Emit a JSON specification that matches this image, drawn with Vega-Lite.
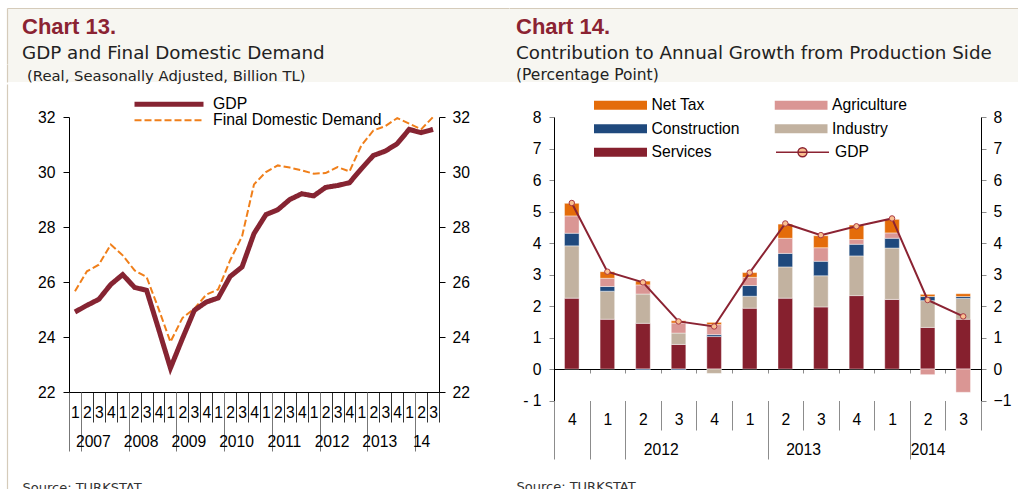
{
  "$schema": "https://vega.github.io/schema/vega-lite/v6.json",
  "background": "white",
  "padding": {"left": 7, "top": 8, "right": 0, "bottom": 0},
  "config": {
    "view": {"stroke": null},
    "font": "Liberation Sans",
    "axis": {"grid": false, "labelFont": "Liberation Sans", "labelFontSize": 15.7, "labelColor": "#000", "domainColor": "#000", "tickColor": "#000", "labelOverlap": false, "labelAngle": 0},
    "legend": {"labelFont": "Liberation Sans", "labelFontSize": 15.7, "labelColor": "#000", "labelLimit": 400}
  },
  "datasets": {
    "demand": [
      {"q": "2007Q1", "series": "GDP", "value": 24.91}, {"q": "2007Q2", "series": "GDP", "value": 25.15}, {"q": "2007Q3", "series": "GDP", "value": 25.37}, {"q": "2007Q4", "series": "GDP", "value": 25.91},
      {"q": "2008Q1", "series": "GDP", "value": 26.27}, {"q": "2008Q2", "series": "GDP", "value": 25.80}, {"q": "2008Q3", "series": "GDP", "value": 25.70}, {"q": "2008Q4", "series": "GDP", "value": 24.30},
      {"q": "2009Q1", "series": "GDP", "value": 22.87}, {"q": "2009Q2", "series": "GDP", "value": 23.94}, {"q": "2009Q3", "series": "GDP", "value": 24.97}, {"q": "2009Q4", "series": "GDP", "value": 25.27},
      {"q": "2010Q1", "series": "GDP", "value": 25.42}, {"q": "2010Q2", "series": "GDP", "value": 26.20}, {"q": "2010Q3", "series": "GDP", "value": 26.55}, {"q": "2010Q4", "series": "GDP", "value": 27.76},
      {"q": "2011Q1", "series": "GDP", "value": 28.45}, {"q": "2011Q2", "series": "GDP", "value": 28.63}, {"q": "2011Q3", "series": "GDP", "value": 29.00}, {"q": "2011Q4", "series": "GDP", "value": 29.21},
      {"q": "2012Q1", "series": "GDP", "value": 29.13}, {"q": "2012Q2", "series": "GDP", "value": 29.44}, {"q": "2012Q3", "series": "GDP", "value": 29.51}, {"q": "2012Q4", "series": "GDP", "value": 29.61},
      {"q": "2013Q1", "series": "GDP", "value": 30.12}, {"q": "2013Q2", "series": "GDP", "value": 30.60}, {"q": "2013Q3", "series": "GDP", "value": 30.76}, {"q": "2013Q4", "series": "GDP", "value": 31.03},
      {"q": "2014Q1", "series": "GDP", "value": 31.55}, {"q": "2014Q2", "series": "GDP", "value": 31.43}, {"q": "2014Q3", "series": "GDP", "value": 31.55},
      {"q": "2007Q1", "series": "Final Domestic Demand", "value": 25.66}, {"q": "2007Q2", "series": "Final Domestic Demand", "value": 26.39}, {"q": "2007Q3", "series": "Final Domestic Demand", "value": 26.63}, {"q": "2007Q4", "series": "Final Domestic Demand", "value": 27.36},
      {"q": "2008Q1", "series": "Final Domestic Demand", "value": 26.97}, {"q": "2008Q2", "series": "Final Domestic Demand", "value": 26.42}, {"q": "2008Q3", "series": "Final Domestic Demand", "value": 26.18}, {"q": "2008Q4", "series": "Final Domestic Demand", "value": 25.03},
      {"q": "2009Q1", "series": "Final Domestic Demand", "value": 23.82}, {"q": "2009Q2", "series": "Final Domestic Demand", "value": 24.69}, {"q": "2009Q3", "series": "Final Domestic Demand", "value": 25.03}, {"q": "2009Q4", "series": "Final Domestic Demand", "value": 25.54},
      {"q": "2010Q1", "series": "Final Domestic Demand", "value": 25.73}, {"q": "2010Q2", "series": "Final Domestic Demand", "value": 26.79}, {"q": "2010Q3", "series": "Final Domestic Demand", "value": 27.66}, {"q": "2010Q4", "series": "Final Domestic Demand", "value": 29.55},
      {"q": "2011Q1", "series": "Final Domestic Demand", "value": 30.00}, {"q": "2011Q2", "series": "Final Domestic Demand", "value": 30.24}, {"q": "2011Q3", "series": "Final Domestic Demand", "value": 30.16}, {"q": "2011Q4", "series": "Final Domestic Demand", "value": 30.06},
      {"q": "2012Q1", "series": "Final Domestic Demand", "value": 29.94}, {"q": "2012Q2", "series": "Final Domestic Demand", "value": 29.96}, {"q": "2012Q3", "series": "Final Domestic Demand", "value": 30.18}, {"q": "2012Q4", "series": "Final Domestic Demand", "value": 30.02},
      {"q": "2013Q1", "series": "Final Domestic Demand", "value": 30.97}, {"q": "2013Q2", "series": "Final Domestic Demand", "value": 31.51}, {"q": "2013Q3", "series": "Final Domestic Demand", "value": 31.67}, {"q": "2013Q4", "series": "Final Domestic Demand", "value": 31.96},
      {"q": "2014Q1", "series": "Final Domestic Demand", "value": 31.76}, {"q": "2014Q2", "series": "Final Domestic Demand", "value": 31.55}, {"q": "2014Q3", "series": "Final Domestic Demand", "value": 32.00}
    ],
    "contrib": [
      {"q": "2011Q4", "component": "Services", "value": 2.25}, {"q": "2011Q4", "component": "Industry", "value": 1.66}, {"q": "2011Q4", "component": "Construction", "value": 0.40}, {"q": "2011Q4", "component": "Agriculture", "value": 0.55}, {"q": "2011Q4", "component": "Net Tax", "value": 0.40},
      {"q": "2012Q1", "component": "Services", "value": 1.58}, {"q": "2012Q1", "component": "Industry", "value": 0.89}, {"q": "2012Q1", "component": "Construction", "value": 0.15}, {"q": "2012Q1", "component": "Agriculture", "value": 0.26}, {"q": "2012Q1", "component": "Net Tax", "value": 0.21},
      {"q": "2012Q2", "component": "Services", "value": 1.45}, {"q": "2012Q2", "component": "Industry", "value": 0.93}, {"q": "2012Q2", "component": "Construction", "value": -0.03}, {"q": "2012Q2", "component": "Agriculture", "value": 0.29}, {"q": "2012Q2", "component": "Net Tax", "value": 0.12},
      {"q": "2012Q3", "component": "Services", "value": 0.78}, {"q": "2012Q3", "component": "Industry", "value": 0.36}, {"q": "2012Q3", "component": "Construction", "value": -0.03}, {"q": "2012Q3", "component": "Agriculture", "value": 0.32}, {"q": "2012Q3", "component": "Net Tax", "value": 0.07},
      {"q": "2012Q4", "component": "Services", "value": 1.03}, {"q": "2012Q4", "component": "Industry", "value": -0.14}, {"q": "2012Q4", "component": "Construction", "value": 0.06}, {"q": "2012Q4", "component": "Agriculture", "value": 0.32}, {"q": "2012Q4", "component": "Net Tax", "value": 0.07},
      {"q": "2013Q1", "component": "Services", "value": 1.93}, {"q": "2013Q1", "component": "Industry", "value": 0.38}, {"q": "2013Q1", "component": "Construction", "value": 0.34}, {"q": "2013Q1", "component": "Agriculture", "value": 0.26}, {"q": "2013Q1", "component": "Net Tax", "value": 0.15},
      {"q": "2013Q2", "component": "Services", "value": 2.25}, {"q": "2013Q2", "component": "Industry", "value": 0.99}, {"q": "2013Q2", "component": "Construction", "value": 0.43}, {"q": "2013Q2", "component": "Agriculture", "value": 0.48}, {"q": "2013Q2", "component": "Net Tax", "value": 0.45},
      {"q": "2013Q3", "component": "Services", "value": 1.97}, {"q": "2013Q3", "component": "Industry", "value": 0.99}, {"q": "2013Q3", "component": "Construction", "value": 0.46}, {"q": "2013Q3", "component": "Agriculture", "value": 0.43}, {"q": "2013Q3", "component": "Net Tax", "value": 0.38},
      {"q": "2013Q4", "component": "Services", "value": 2.33}, {"q": "2013Q4", "component": "Industry", "value": 1.26}, {"q": "2013Q4", "component": "Construction", "value": 0.37}, {"q": "2013Q4", "component": "Agriculture", "value": 0.15}, {"q": "2013Q4", "component": "Net Tax", "value": 0.46},
      {"q": "2014Q1", "component": "Services", "value": 2.21}, {"q": "2014Q1", "component": "Industry", "value": 1.63}, {"q": "2014Q1", "component": "Construction", "value": 0.31}, {"q": "2014Q1", "component": "Agriculture", "value": 0.17}, {"q": "2014Q1", "component": "Net Tax", "value": 0.43},
      {"q": "2014Q2", "component": "Services", "value": 1.32}, {"q": "2014Q2", "component": "Industry", "value": 0.85}, {"q": "2014Q2", "component": "Construction", "value": 0.13}, {"q": "2014Q2", "component": "Agriculture", "value": -0.18}, {"q": "2014Q2", "component": "Net Tax", "value": 0.07},
      {"q": "2014Q3", "component": "Services", "value": 1.58}, {"q": "2014Q3", "component": "Industry", "value": 0.66}, {"q": "2014Q3", "component": "Construction", "value": 0.06}, {"q": "2014Q3", "component": "Agriculture", "value": -0.74}, {"q": "2014Q3", "component": "Net Tax", "value": 0.09}
    ],
    "gdp14": [
      {"q": "2011Q4", "series": "GDP", "value": 5.27}, {"q": "2012Q1", "series": "GDP", "value": 3.09}, {"q": "2012Q2", "series": "GDP", "value": 2.75}, {"q": "2012Q3", "series": "GDP", "value": 1.51},
      {"q": "2012Q4", "series": "GDP", "value": 1.35}, {"q": "2013Q1", "series": "GDP", "value": 3.06}, {"q": "2013Q2", "series": "GDP", "value": 4.62}, {"q": "2013Q3", "series": "GDP", "value": 4.25},
      {"q": "2013Q4", "series": "GDP", "value": 4.53}, {"q": "2014Q1", "series": "GDP", "value": 4.78}, {"q": "2014Q2", "series": "GDP", "value": 2.19}, {"q": "2014Q3", "series": "GDP", "value": 1.67}
    ]
  },
  "spacing": 0,
  "resolve": {"scale": {"color": "independent", "stroke": "independent", "strokeDash": "independent", "strokeWidth": "independent"}},
  "vconcat": [
    {
      "spacing": 0,
      "hconcat": [
        {
          "width": 502, "height": 56,
          "view": {"fill": "#F7F6F1", "stroke": null},
          "title": {"text": "Chart 13.", "subtitle": "GDP and Final Domestic Demand", "anchor": "start", "frame": "group", "orient": "top", "offset": -55.3, "dx": 15,
            "font": "Liberation Sans", "fontSize": 22, "fontWeight": "bold", "color": "#8B2332",
            "subtitleFont": "DejaVu Sans", "subtitleFontSize": 18.3, "subtitleColor": "#222222", "subtitlePadding": 6},
          "data": {"values": [{"t": ""}]},
          "mark": "text",
          "encoding": {
            "text": {"field": "t"},
            "x": {"field": "t", "type": "nominal", "axis": {"orient": "top", "title": null, "domain": true, "domainColor": "#D5CBBA", "domainWidth": 1.2, "ticks": false, "labels": false}},
            "y": {"field": "t", "type": "nominal", "axis": {"orient": "left", "title": null, "domain": true, "domainColor": "#D5CBBA", "domainWidth": 1.2, "ticks": false, "labels": false}}
          }
        },
        {
          "width": 509, "height": 56,
          "view": {"fill": "#F7F6F1", "stroke": null},
          "title": {"text": "Chart 14.", "subtitle": "Contribution to Annual Growth from Production Side", "anchor": "start", "frame": "group", "orient": "top", "offset": -55.3, "dx": 7,
            "font": "Liberation Sans", "fontSize": 22, "fontWeight": "bold", "color": "#8B2332",
            "subtitleFont": "DejaVu Sans", "subtitleFontSize": 18.3, "subtitleColor": "#222222", "subtitlePadding": 6},
          "data": {"values": [{"t": ""}]},
          "mark": "text",
          "encoding": {
            "text": {"field": "t"},
            "x": {"field": "t", "type": "nominal", "axis": {"orient": "top", "title": null, "domain": true, "domainColor": "#D5CBBA", "domainWidth": 1.2, "ticks": false, "labels": false}}
          }
        }
      ]
    },
    {
      "spacing": 0,
      "hconcat": [
        {
          "width": 502, "height": 18,
          "view": {"fill": "#F7F6F1", "stroke": null},
          "title": {"text": "(Real, Seasonally Adjusted, Billion TL)", "anchor": "start", "frame": "group", "orient": "top", "offset": -19.3, "dx": 20,
            "font": "DejaVu Sans", "fontSize": 14.8, "fontWeight": "normal", "color": "#222222"},
          "data": {"values": [{"t": ""}]},
          "mark": "text",
          "encoding": {
            "text": {"field": "t"},
            "y": {"field": "t", "type": "nominal", "axis": {"orient": "left", "title": null, "domain": true, "domainColor": "#D5CBBA", "domainWidth": 1.2, "ticks": false, "labels": false}}
          }
        },
        {
          "width": 509, "height": 18,
          "view": {"fill": "#F7F6F1", "stroke": null},
          "title": {"text": "(Percentage Point)", "anchor": "start", "frame": "group", "orient": "top", "offset": -19.3, "dx": 7,
            "font": "DejaVu Sans", "fontSize": 15.5, "fontWeight": "normal", "color": "#222222"},
          "data": {"values": [{"t": ""}]},
          "mark": "text",
          "encoding": {"text": {"field": "t"}}
        }
      ]
    },
    {
      "spacing": 0,
      "resolve": {"scale": {"color": "independent", "stroke": "independent", "strokeDash": "independent", "strokeWidth": "independent"}},
      "hconcat": [
        {
          "width": 1, "height": 407,
          "view": {"fill": null, "stroke": null},
          "data": {"values": [{"t": ""}]},
          "mark": "text",
          "encoding": {
            "text": {"field": "t"},
            "y": {"field": "t", "type": "nominal", "axis": {"orient": "left", "position": -33, "title": null, "domain": true, "domainColor": "#D5CBBA", "domainWidth": 1.2, "ticks": false, "labels": false}}
          }
        },
        {
          "spacing": 38,
          "resolve": {"scale": {"color": "independent", "stroke": "independent", "strokeDash": "independent", "strokeWidth": "independent"}},
          "hconcat": [
            {
              "width": 370, "height": 275,
              "title": {"text": ".", "color": "transparent", "fontSize": 10, "offset": 1.5, "frame": "group", "anchor": "start"},
              "data": {"name": "demand"},
              "layer": [
                {
                  "transform": [{"filter": "datum.series == 'Final Domestic Demand'"}],
                  "mark": {"type": "line"},
                  "encoding": {
                    "x": {"field": "q", "type": "nominal", "sort": null, "scale": {"type": "band", "paddingInner": 0, "paddingOuter": 0},
                      "axis": {"title": null, "orient": "bottom", "tickBand": "extent", "tickSize": 30, "tickColor": "#333333", "domain": true, "domainColor": "#000000",
                        "labelExpr": "datum.value ? substring(datum.value, 5) : ''", "labelBaseline": "middle", "labelPadding": -10}},
                    "y": {"field": "value", "type": "quantitative", "scale": {"domain": [22, 32], "nice": false, "zero": false},
                      "axis": {"title": ".", "titleOpacity": 0, "titleFontSize": 10, "titlePadding": 19.5, "orient": "left", "values": [22, 24, 26, 28, 30, 32], "tickSize": 6, "labelPadding": 8}},
                    "stroke": {"field": "series", "type": "nominal", "scale": {"domain": ["GDP", "Final Domestic Demand"], "range": ["#862432", "#F07F1A"]},
                      "legend": {"orient": "none", "legendX": 63, "legendY": -20.3, "title": null, "symbolType": "stroke", "symbolSize": 4761, "labelOffset": 7, "clipHeight": 15, "rowPadding": -1.7, "padding": 0, "labelFontSize": 15.8}},
                    "strokeDash": {"field": "series", "type": "nominal", "scale": {"domain": ["GDP", "Final Domestic Demand"], "range": [[1, 0], [7, 3]]},
                      "legend": {"orient": "none", "legendX": 63, "legendY": -20.3, "title": null, "symbolType": "stroke", "symbolSize": 4761, "labelOffset": 7, "clipHeight": 15, "rowPadding": -1.7, "padding": 0, "labelFontSize": 15.8}},
                    "strokeWidth": {"field": "series", "type": "nominal", "scale": {"domain": ["GDP", "Final Domestic Demand"], "range": [5, 2]},
                      "legend": {"orient": "none", "legendX": 63, "legendY": -20.3, "title": null, "symbolType": "stroke", "symbolSize": 4761, "labelOffset": 7, "clipHeight": 15, "rowPadding": -1.7, "padding": 0, "labelFontSize": 15.8}}
                  }
                },
                {
                  "transform": [{"filter": "datum.series == 'GDP'"}],
                  "mark": {"type": "line"},
                  "encoding": {
                    "x": {"field": "q", "type": "nominal", "sort": null, "scale": {"type": "band", "paddingInner": 0, "paddingOuter": 0},
                      "axis": {"title": "Source: TURKSTAT", "orient": "bottom", "tickBand": "extent", "tickSize": 59, "tickColor": "#777777",
                        "tickOpacity": {"condition": {"test": "datum.extra || indexof('' + datum.value, 'Q1') >= 0", "value": 1}, "value": 0},
                        "domain": false,
                        "labelExpr": "datum.value && indexof(datum.value, 'Q2') >= 0 ? (substring(datum.value, 0, 4) == '2014' ? '14' : substring(datum.value, 0, 4)) : ''",
                        "labelOffset": {"condition": {"test": "datum.value == '2014Q2'", "value": 0}, "value": 5.97},
                        "labelBaseline": "middle", "labelPadding": -10,
                        "titleX": -47, "titleY": 89, "titleAnchor": "start", "titleAlign": "left", "titleBaseline": "top",
                        "titleFont": "DejaVu Sans", "titleFontSize": 13, "titleFontWeight": "normal", "titleColor": "#333333"}},
                    "y": {"field": "value", "type": "quantitative", "scale": {"domain": [22, 32], "nice": false, "zero": false},
                      "axis": {"title": null, "orient": "right", "values": [22, 24, 26, 28, 30, 32], "tickSize": 6, "labelPadding": 7}},
                    "stroke": {"field": "series", "type": "nominal", "scale": {"domain": ["GDP", "Final Domestic Demand"], "range": ["#862432", "#F07F1A"]},
                      "legend": {"orient": "none", "legendX": 63, "legendY": -20.3, "title": null, "symbolType": "stroke", "symbolSize": 4761, "labelOffset": 7, "clipHeight": 15, "rowPadding": -1.7, "padding": 0, "labelFontSize": 15.8}},
                    "strokeDash": {"field": "series", "type": "nominal", "scale": {"domain": ["GDP", "Final Domestic Demand"], "range": [[1, 0], [7, 3]]},
                      "legend": {"orient": "none", "legendX": 63, "legendY": -20.3, "title": null, "symbolType": "stroke", "symbolSize": 4761, "labelOffset": 7, "clipHeight": 15, "rowPadding": -1.7, "padding": 0, "labelFontSize": 15.8}},
                    "strokeWidth": {"field": "series", "type": "nominal", "scale": {"domain": ["GDP", "Final Domestic Demand"], "range": [5, 2]},
                      "legend": {"orient": "none", "legendX": 63, "legendY": -20.3, "title": null, "symbolType": "stroke", "symbolSize": 4761, "labelOffset": 7, "clipHeight": 15, "rowPadding": -1.7, "padding": 0, "labelFontSize": 15.8}}
                  }
                }
              ],
              "resolve": {"axis": {"x": "independent", "y": "independent"}}
            },
            {
              "width": 427, "height": 283.5,
              "layer": [
                {
                  "data": {"name": "contrib"},
                  "transform": [{"calculate": "indexof(['Services', 'Industry', 'Construction', 'Agriculture', 'Net Tax'], datum.component)", "as": "stackOrder"}],
                  "mark": {"type": "bar", "width": {"band": 0.41}, "stroke": "#ffffff", "strokeWidth": 0.6, "strokeOpacity": 0.7},
                  "encoding": {
                    "x": {"field": "q", "type": "nominal", "sort": null, "scale": {"type": "band", "paddingInner": 0, "paddingOuter": 0},
                      "axis": {"title": null, "orient": "bottom", "tickBand": "extent", "tickSize": 29.5, "tickColor": "#8c8c8c", "domain": false,
                        "labelExpr": "datum.value ? substring(datum.value, 5) : ''", "labelBaseline": "middle", "labelPadding": -10.8}},
                    "y": {"field": "value", "type": "quantitative", "stack": "zero", "scale": {"domain": [-1, 8], "nice": false, "zero": false},
                      "axis": {"title": ".", "titleOpacity": 0, "titleFontSize": 10, "titlePadding": 3.7, "orient": "left", "values": [-1, 0, 1, 2, 3, 4, 5, 6, 7, 8], "tickSize": 5, "tickColor": "#8c8c8c", "labelPadding": 8,
                        "labelExpr": "datum.value < 0 ? '- ' + abs(datum.value) : datum.label"}},
                    "order": {"field": "stackOrder", "type": "quantitative", "sort": "ascending"},
                    "color": {"field": "component", "type": "nominal", "sort": ["Services", "Industry", "Construction", "Agriculture", "Net Tax"],
                      "scale": {"range": ["#86202E", "#C2B2A0", "#1F497D", "#DA9694", "#E46C0A"]},
                      "legend": {"orient": "none", "legendX": 40, "legendY": -21.2, "title": null, "columns": 2, "columnPadding": 34.5, "rowPadding": 4.5, "clipHeight": 19, "padding": 0,
                        "symbolType": "M-1,-0.17H1V0.17H-1Z", "symbolSize": 2809, "symbolStrokeWidth": 0, "labelOffset": 4.5,
                        "values": ["Net Tax", "Construction", "Services", "Agriculture", "Industry"]}}
                  }
                },
                {
                  "data": {"name": "gdp14"},
                  "mark": {"type": "line", "strokeWidth": 2},
                  "encoding": {
                    "x": {"field": "q", "type": "nominal", "sort": null, "scale": {"type": "band", "paddingInner": 0, "paddingOuter": 0},
                      "axis": {"title": "Source: TURKSTAT", "orient": "bottom", "tickBand": "extent", "tickSize": 58.5, "tickColor": "#8c8c8c",
                        "tickOpacity": {"condition": {"test": "datum.extra || datum.value == '2011Q4' || indexof('' + datum.value, 'Q1') >= 0", "value": 1}, "value": 0},
                        "domain": false,
                        "labelExpr": "datum.value && indexof(datum.value, 'Q2') >= 0 ? substring(datum.value, 0, 4) : ''",
                        "labelOffset": {"condition": {"test": "datum.value == '2014Q2'", "value": 0}, "value": 17.8},
                        "labelBaseline": "middle", "labelPadding": -9.8,
                        "titleX": -38, "titleY": 80, "titleAnchor": "start", "titleAlign": "left", "titleBaseline": "top",
                        "titleFont": "DejaVu Sans", "titleFontSize": 13, "titleFontWeight": "normal", "titleColor": "#333333"}},
                    "y": {"field": "value", "type": "quantitative",
                      "axis": {"title": null, "orient": "right", "values": [-1, 0, 1, 2, 3, 4, 5, 6, 7, 8], "tickSize": 5, "tickColor": "#8c8c8c", "labelPadding": 7}},
                    "stroke": {"field": "series", "type": "nominal", "scale": {"domain": ["GDP"], "range": ["#8B2332"]},
                      "legend": {"orient": "none", "legendX": 221, "legendY": 25.8, "title": null, "padding": 0, "clipHeight": 19,
                        "symbolType": "M-1,0H1M-0.17,0A0.17,0.17 0 1,0 0.17,0A0.17,0.17 0 1,0 -0.17,0Z", "symbolSize": 2809, "symbolStrokeWidth": 1.5, "symbolFillColor": "#FAC090", "labelOffset": 5}}
                  }
                },
                {
                  "data": {"name": "gdp14"},
                  "mark": {"type": "point", "filled": true, "fill": "#FAC090", "stroke": "#A83844", "strokeWidth": 1, "size": 30, "opacity": 1},
                  "encoding": {
                    "x": {"field": "q", "type": "nominal", "sort": null, "scale": {"type": "band", "paddingInner": 0, "paddingOuter": 0},
                      "axis": {"title": null, "orient": "bottom", "offset": -31.5, "tickBand": "extent", "tickSize": 4, "tickColor": "#8c8c8c", "domain": true, "domainColor": "#000000", "domainWidth": 1.2, "labels": false}},
                    "y": {"field": "value", "type": "quantitative", "axis": null}
                  }
                }
              ],
              "resolve": {"axis": {"x": "independent", "y": "independent"}}
            }
          ]
        }
      ]
    }
  ]
}
